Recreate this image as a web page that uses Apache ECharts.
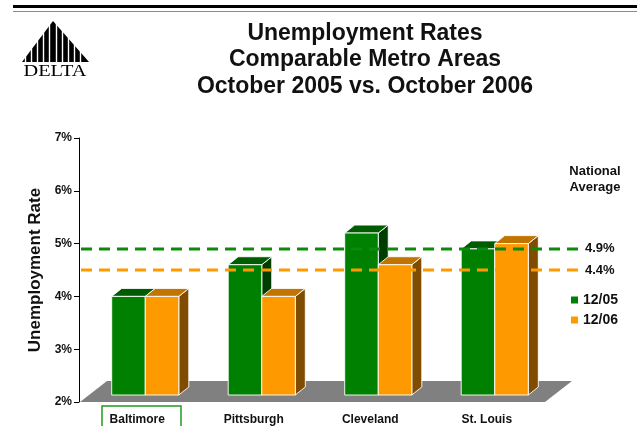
<!DOCTYPE html>
<html><head><meta charset="utf-8">
<script src="https://cdn.jsdelivr.net/npm/echarts@6/dist/echarts.min.js"></script>
<style>html,body{margin:0;padding:0;background:#fff}#c{width:637px;height:426px}</style>
</head><body><div id="c"></div>
<script>
// ---- data ----
const categories = ['Baltimore', 'Pittsburgh', 'Cleveland', 'St. Louis'];
const seriesNames = ['12/05', '12/06'];
const rates2005 = [4.0, 4.6, 5.2, 4.9];
const rates2006 = [4.0, 4.0, 4.6, 5.0];
const nationalAvgValues = [4.9, 4.5];
const nationalAvgLabels = ['4.9%', '4.4%'];
const yTickValues = [2, 3, 4, 5, 6, 7];
const titleLines = ['Unemployment Rates', 'Comparable Metro Areas', 'October 2005 vs. October 2006'];
const yAxisTitle = 'Unemployment Rate';
const legendTitle = ['National', 'Average'];
const logoText = 'DELTA';

// ---- styling ----
const FONT = '"Liberation Sans", Arial, Helvetica, sans-serif';
const TXT = '#111';
const yMin = yTickValues[0], yMax = yTickValues[yTickValues.length - 1];
const DX = 10, DY = 8;        // bar depth
const SX = 8, SY = 7;         // bar placement inside floor depth
const FDX = 27, FDY = 21;     // floor depth
const EDGE = 'rgba(255,255,255,0.9)';
const palettes = [
  { front: '#008000', top: '#005c00', side: '#003d00' },
  { front: '#ff9900', top: '#c27400', side: '#7f4c00' }
];
const lineColors = ['#0b8a0b', '#ff9900'];

function barRenderer(sideIdx) {
  const c = palettes[sideIdx];
  return function (params, api) {
    const cat = api.value(0), val = api.value(1);
    const top = api.coord([cat, val]);
    const base = api.coord([cat, yMin]);
    const band = api.size([1, 0])[0];
    const w = band * 0.288;
    const x0 = sideIdx === 0 ? top[0] - w + SX : top[0] + SX;
    const x1 = x0 + w;
    const yT = top[1], yB = base[1] - SY;
    return {
      type: 'group',
      children: [
        { type: 'polygon', shape: { points: [[x1, yB], [x1 + DX, yB - DY], [x1 + DX, yT - DY], [x1, yT]] },
          style: { fill: c.side, stroke: EDGE, lineWidth: 1 } },
        { type: 'polygon', shape: { points: [[x0, yT], [x0 + DX, yT - DY], [x1 + DX, yT - DY], [x1, yT]] },
          style: { fill: c.top, stroke: EDGE, lineWidth: 1 } },
        { type: 'rect', shape: { x: x0, y: yT, width: w, height: yB - yT },
          style: { fill: c.front, stroke: EDGE, lineWidth: 1 } }
      ]
    };
  };
}

function floorRenderer(params, api) {
  const cs = params.coordSys;
  const yb = cs.y + cs.height;
  return {
    type: 'polygon',
    shape: { points: [[cs.x + 1, yb], [cs.x + cs.width, yb], [cs.x + cs.width + FDX, yb - FDY], [cs.x + 1 + FDX, yb - FDY]] },
    style: { fill: '#808080' }
  };
}

function avgRenderer(params, api) {
  const cs = params.coordSys;
  const i = params.dataIndex;
  const y = api.coord([0, api.value(1)])[1];
  const xe = cs.x + cs.width + 35;
  return {
    type: 'group',
    children: [
      { type: 'line', shape: { x1: cs.x + 2, y1: y, x2: xe, y2: y },
        style: { stroke: lineColors[i], lineWidth: 3, lineDash: [11, 7] } },
      { type: 'text', x: xe + 5, y: y,
        style: { text: nationalAvgLabels[i], fill: TXT, font: 'bold 13px ' + FONT, textAlign: 'left', textVerticalAlign: 'middle' } }
    ]
  };
}

// logo: striped triangle
const AX = 53, AY = 21, BL = 22, BR = 89, BY = 62;
const logoChildren = [
  { type: 'polygon', shape: { points: [[AX, AY], [BR, BY], [BL, BY]] }, style: { fill: '#000' } }
];
[-27.5, -21.5, -15.5, -9.5, -3.5, 3.5, 9.5, 15.5, 21.5, 27.5].forEach(function (d) {
  const x = AX + d;
  const yEdge = d < 0 ? AY + (-d) * (BY - AY) / (AX - BL) : AY + d * (BY - AY) / (BR - AX);
  logoChildren.push({ type: 'line', shape: { x1: x, y1: yEdge - 1, x2: x, y2: BY + 1 }, style: { stroke: '#fff', lineWidth: 1.4 } });
});
logoChildren.push({ type: 'text', x: 55, y: 72, scaleX: 1.27,
  style: { text: logoText, font: '16px "Liberation Serif", "Times New Roman", serif', fill: '#000', textAlign: 'center', textVerticalAlign: 'middle' } });

const chart = echarts.init(document.getElementById('c'), null, { renderer: 'canvas' });
chart.setOption({
  animation: false,
  backgroundColor: '#fff',
  title: {
    text: titleLines.join('\n'),
    left: 360, top: 15, textAlign: 'center',
    textStyle: { fontFamily: FONT, fontWeight: 'bold', fontSize: 23, lineHeight: 26.5, color: TXT }
  },
  legend: {
    data: seriesNames, orient: 'vertical', left: 566, top: 287,
    icon: 'rect', itemWidth: 7, itemHeight: 7, itemGap: 4,
    textStyle: { fontFamily: FONT, fontWeight: 'bold', fontSize: 14, lineHeight: 16, color: TXT }
  },
  grid: { left: 79, top: 138, width: 466, height: 265, containLabel: false },
  xAxis: {
    type: 'category', data: categories,
    axisLine: { show: false }, axisTick: { show: false },
    axisLabel: { margin: 12, fontFamily: FONT, fontWeight: 'bold', fontSize: 12, color: TXT }
  },
  yAxis: {
    type: 'value', min: yMin, max: yMax, interval: 1,
    name: yAxisTitle, nameLocation: 'middle', nameGap: 33,
    nameTextStyle: { fontFamily: FONT, fontWeight: 'bold', fontSize: 17, color: TXT },
    axisLine: { show: true, lineStyle: { color: '#000', width: 1 } },
    axisTick: { show: true, length: 5, lineStyle: { color: '#000' } },
    axisLabel: { formatter: '{value}%', margin: 7, fontFamily: FONT, fontWeight: 'bold', fontSize: 12, color: TXT },
    splitLine: { show: false }
  },
  series: [
    { type: 'custom', name: 'floor', renderItem: floorRenderer, data: [[0, yMin]], z: 1, silent: true },
    { type: 'custom', name: seriesNames[0], renderItem: barRenderer(0), itemStyle: { color: palettes[0].front },
      data: rates2005.map(function (v, i) { return [i, v]; }), z: 2 },
    { type: 'custom', name: seriesNames[1], renderItem: barRenderer(1), itemStyle: { color: palettes[1].front },
      data: rates2006.map(function (v, i) { return [i, v]; }), z: 3 },
    { type: 'custom', name: 'avg', renderItem: avgRenderer, data: nationalAvgValues.map(function (v, i) { return [i, v]; }), z: 4, silent: true }
  ],
  graphic: [
    { type: 'rect', shape: { x: 13, y: 5, width: 624, height: 3 }, style: { fill: '#000' } },
    { type: 'rect', shape: { x: 13, y: 11, width: 624, height: 1 }, style: { fill: '#8a8a8a' } },
    { type: 'group', children: logoChildren },
    { type: 'text', x: 595, y: 171, style: { text: legendTitle[0], font: 'bold 13px ' + FONT, fill: TXT, textAlign: 'center', textVerticalAlign: 'middle' } },
    { type: 'text', x: 595, y: 187, style: { text: legendTitle[1], font: 'bold 13px ' + FONT, fill: TXT, textAlign: 'center', textVerticalAlign: 'middle' } },
    { type: 'rect', shape: { x: 102, y: 406, width: 79, height: 30 }, style: { fill: 'none', stroke: '#1f9a1f', lineWidth: 1.5 } }
  ]
});
</script>
</body></html>
